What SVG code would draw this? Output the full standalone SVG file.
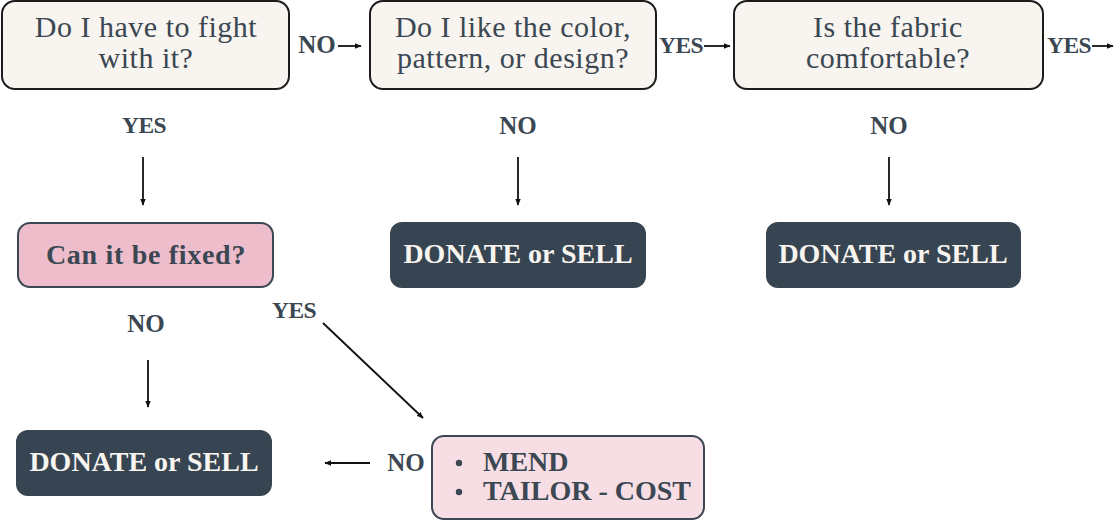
<svg xmlns="http://www.w3.org/2000/svg" width="1115" height="520" viewBox="0 0 1115 520">
<defs>
<marker id="ah" viewBox="0 0 10 10" refX="9" refY="5" markerWidth="7" markerHeight="7" markerUnits="userSpaceOnUse" orient="auto">
<path d="M0,1 L10,5 L0,9 Z" fill="#111"/>
</marker>
</defs>
<style>
.q{fill:#f8f4ef;stroke:#1c1c1c;stroke-width:2}
.qt{font-family:"Liberation Serif",serif;font-size:30px;letter-spacing:0.5px;fill:#3b4752;text-anchor:middle}
.dk{fill:#374451}
.dt{font-family:"Liberation Serif",serif;font-weight:bold;font-size:28px;fill:#f8f4ef;text-anchor:middle}
.lb{font-family:"Liberation Serif",serif;font-weight:bold;font-size:25px;fill:#3b4752;text-anchor:middle}
.ly{font-family:"Liberation Serif",serif;font-weight:bold;font-size:23.5px;letter-spacing:-0.6px;fill:#3b4752;text-anchor:middle}
.bt{font-family:"Liberation Serif",serif;font-weight:bold;font-size:28px;fill:#3b4752}
.ln{stroke:#111;stroke-width:1.8;fill:none;marker-end:url(#ah)}
</style>
<rect width="1115" height="520" fill="#ffffff"/>
<g id="q1"><rect class="q" x="2" y="1" width="287" height="88" rx="13"/>
<text class="qt" x="146" y="37">Do I have to fight</text><text class="qt" x="146" y="68">with it?</text></g>
<g id="q2"><rect class="q" x="370" y="1" width="286" height="88" rx="13"/>
<text class="qt" x="513" y="37">Do I like the color,</text><text class="qt" x="513" y="68">pattern, or design?</text></g>
<g id="q3"><rect class="q" x="734" y="1" width="309" height="88" rx="13"/>
<text class="qt" x="888" y="37">Is the fabric</text><text class="qt" x="888" y="68">comfortable?</text></g>
<g id="fix"><rect x="18" y="223" width="255" height="64" rx="12" fill="#eebdcb" stroke="#3b4752" stroke-width="2"/>
<text class="bt" x="146" y="264" text-anchor="middle" letter-spacing="0.7">Can it be fixed?</text></g>
<g id="d2"><rect class="dk" x="390" y="222" width="256" height="66" rx="12"/><text class="dt" x="518" y="263">DONATE or SELL</text></g>
<g id="d3"><rect class="dk" x="766" y="222" width="255" height="66" rx="12"/><text class="dt" x="893" y="263">DONATE or SELL</text></g>
<g id="d1"><rect class="dk" x="16" y="430" width="256" height="66" rx="12"/><text class="dt" x="144" y="471">DONATE or SELL</text></g>
<g id="mend"><rect x="432" y="436" width="272" height="83" rx="12" fill="#f7dee4" stroke="#3b4752" stroke-width="2"/>
<circle cx="459" cy="463" r="3.2" fill="#3b4752"/><circle cx="459" cy="492" r="3.2" fill="#3b4752"/>
<text class="bt" x="483" y="471">MEND</text><text class="bt" x="483" y="500">TAILOR - COST</text></g>
<g id="connectors">
<text class="lb" x="317" y="53">NO</text><line class="ln" x1="338" y1="46" x2="361" y2="46"/>
<text class="ly" x="681" y="53">YES</text><line class="ln" x1="704" y1="46" x2="730" y2="46"/>
<text class="ly" x="1069" y="53">YES</text><line class="ln" x1="1092" y1="46" x2="1113" y2="46"/>
<text class="ly" x="144" y="133">YES</text><line class="ln" x1="143" y1="157" x2="143" y2="205"/>
<text class="lb" x="518" y="134">NO</text><line class="ln" x1="518" y1="157" x2="518" y2="205"/>
<text class="lb" x="889" y="134">NO</text><line class="ln" x1="889" y1="157" x2="889" y2="205"/>
<text class="lb" x="146" y="332">NO</text><line class="ln" x1="148" y1="360" x2="148" y2="407"/>
<text class="ly" x="294" y="318">YES</text><line class="ln" x1="323" y1="323" x2="423" y2="418"/>
<text class="lb" x="406" y="471">NO</text><line class="ln" x1="370" y1="463" x2="325" y2="463"/>
</g>
</svg>
